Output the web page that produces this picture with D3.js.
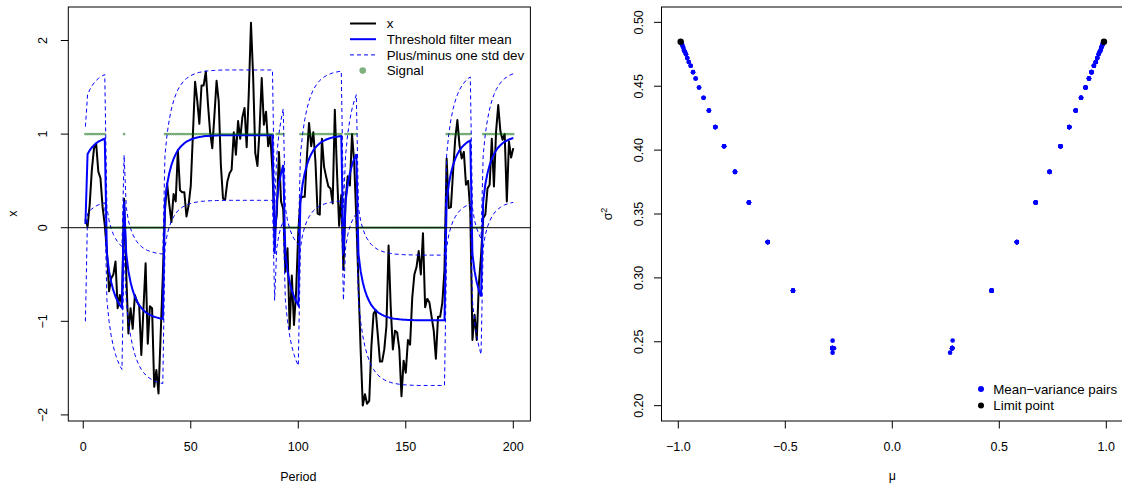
<!DOCTYPE html>
<html>
<head>
<meta charset="utf-8">
<script src="https://cdn.jsdelivr.net/npm/d3@7"></script>
<style>
  body { margin: 0; background: #fff; }
  svg text { font-family: "Liberation Sans", Arial, Helvetica, sans-serif; font-size: 12.5px; fill: #000; }
  svg text.legend { font-size: 13.3px; }
</style>
</head>
<body>
<svg id="chart" width="1122" height="487"></svg>
<script>
// observed series, periods 1..200
const xSeries = [
  0.09, 0.01, 0.25, 0.62, 0.85, 0.90, 0.60, 0.53, 0.22, 0.03,
  -0.25, -0.68, -0.54, -0.50, -0.36, -0.86, -0.72, -0.83, 0.31, -0.50,
  -1.13, -0.86, -1.08, -0.72, -0.79, -0.83, -1.36, -0.86, -0.38, -1.24,
  -0.84, -0.86, -1.70, -1.52, -1.77, -1.14, -0.51, 0.19, 0.47, 0.25,
  0.06, 0.36, 0.28, 0.83, 0.40, 0.38, 0.38, 0.12, 0.24, 0.45,
  1.00, 1.56, 1.36, 1.11, 1.52, 1.52, 1.67, 1.32, 1.02, 0.85,
  1.20, 1.57, 1.35, 0.67, 0.31, 0.30, 0.49, 0.58, 0.62, 1.02,
  0.78, 1.14, 0.95, 1.18, 1.28, 0.86, 1.45, 2.19, 1.62, 0.80,
  0.66, 1.05, 1.60, 1.10, 1.24, 0.87, 0.99, 0.60, -0.05, 0.14,
  0.81, 0.28, 0.20, -0.47, -0.22, -1.08, -0.51, -1.04, -0.68, -0.05,
  0.31, 0.33, 0.33, 0.75, 1.12, 0.87, 1.02, 0.70, 0.15, 0.14,
  0.95, 0.65, 0.54, 0.44, 0.42, 0.26, 1.26, 0.60, 0.02, 0.35,
  -0.45, 0.30, 0.55, 0.45, 1.00, 0.70, 0.10, -0.60, -1.30, -1.90,
  -1.78, -1.88, -1.85, -1.27, -0.92, -0.88, -1.15, -1.43, -1.43, -1.30,
  -1.05, -0.19, -0.85, -1.30, -1.10, -1.12, -1.30, -1.80, -1.42, -1.55,
  -1.20, -1.25, -0.75, -0.50, -0.42, -0.25, -0.50, -0.06, -0.85, -0.76,
  -0.80, -0.95, -1.10, -1.40, -0.95, -0.95, -0.80, -0.45, 0.74, 0.21,
  0.22, 0.60, 0.95, 1.15, 0.88, 0.74, 0.81, 0.46, 0.50, 0.17,
  -1.20, -0.93, -1.20, -0.60, -0.30, 0.10, 0.14, 0.42, 0.46, 0.95,
  0.44, 1.03, 1.31, 1.03, 0.94, 1.00, 0.28, 0.92, 0.75, 0.85
];

// signal regimes: [first period, last period, signal]
const signalRuns = [
  [1, 10, 1], [11, 18, 0], [19, 19, 1], [20, 37, 0], [38, 88, 1],
  [89, 89, 0], [90, 93, 1], [94, 100, 0], [101, 120, 1], [121, 121, 0],
  [122, 127, 1], [128, 168, 0], [169, 180, 1], [181, 185, 0], [186, 200, 1]
];

// filter state at period 1, and step where the first regime joins the table
const initMean = 0.04;
const initSd = 1.04;
const firstRunStep = 5;

// |mean| and variance of the filter k steps after a regime switch
const stepMean = [0.280, 0.464, 0.582, 0.670, 0.735, 0.786, 0.827, 0.857, 0.882, 0.903,
  0.919, 0.931, 0.942, 0.951, 0.958, 0.964, 0.969, 0.973, 0.976, 0.979,
  0.981, 0.983, 0.984, 0.985, 0.986, 0.987, 0.988, 0.988, 0.989, 0.989];
const stepVar = [0.245, 0.290, 0.328, 0.359, 0.383, 0.403, 0.418, 0.431, 0.441, 0.449,
  0.456, 0.461, 0.466, 0.469, 0.472, 0.475, 0.477, 0.478, 0.480, 0.481,
  0.482, 0.483, 0.483, 0.484, 0.484, 0.4845, 0.4846, 0.4847, 0.4848, 0.4848];

// first-step pairs that land slightly off the table
const extraPairs = [[0.270, 0.2415], [0.282, 0.251], [-0.279, 0.2509], [-0.272, 0.2449], [-0.279, 0.2415]];
const limitPoint = [0.989, 0.4848];

const periodTicks = [0, 50, 100, 150, 200];
const xTicks = [-2, -1, 0, 1, 2];
const muTicks = [-1, -0.5, 0, 0.5, 1];
const varTicks = [0.20, 0.25, 0.30, 0.35, 0.40, 0.45, 0.50];

const legendLeft = ['x', 'Threshold filter mean', 'Plus/minus one std dev', 'Signal'];
const legendRight = ['Mean\u2212variance pairs', 'Limit point'];

// build the per-period table
const rows = [];
signalRuns.forEach(([a, b, s]) => {
  for (let t = a; t <= b; t++) {
    let m, sd;
    if (t === 1) {
      m = initMean; sd = initSd;
    } else {
      let k = a === 1 ? t - 2 + firstRunStep : t - a;
      k = Math.min(k, stepMean.length - 1);
      m = (s ? 1 : -1) * stepMean[k];
      sd = Math.sqrt(stepVar[k]);
    }
    rows.push({t: t, x: xSeries[t - 1], s: s, m: m, v: sd * sd, up: m + sd, lo: m - sd});
  }
});

const svg = d3.select('#chart');
const green = 'rgba(0,100,0,0.5)';

// ---------- left panel ----------
const xL = d3.scaleLinear().domain([-6.96, 207.96]).range([68.3, 530.4]);
const yL = d3.scaleLinear().domain([-2.065, 2.358]).range([421, 7]);
const left = svg.append('g');

svg.append('clipPath').attr('id', 'clipL').append('rect')
  .attr('x', 68.3).attr('y', 7).attr('width', 462.1).attr('height', 414);

const plotL = left.append('g').attr('clip-path', 'url(#clipL)');
const lineOf = key => d3.line().x(d => xL(d.t)).y(d => yL(d[key]));

plotL.append('path').datum(rows).attr('d', lineOf('x'))
  .attr('fill', 'none').attr('stroke', '#000').attr('stroke-width', 2).attr('stroke-linejoin', 'round');
plotL.append('path').datum(rows).attr('d', lineOf('m'))
  .attr('fill', 'none').attr('stroke', '#0000ff').attr('stroke-width', 2);
['up', 'lo'].forEach(k => {
  plotL.append('path').datum(rows).attr('d', lineOf(k))
    .attr('fill', 'none').attr('stroke', '#0000ff').attr('stroke-width', 1).attr('stroke-dasharray', '4,3');
});
plotL.selectAll('circle.sig').data(rows).enter().append('circle')
  .attr('cx', d => xL(d.t)).attr('cy', d => yL(d.s)).attr('r', 1.4).attr('fill', green);
plotL.append('line').attr('x1', 68.3).attr('x2', 530.4).attr('y1', yL(0)).attr('y2', yL(0))
  .attr('stroke', '#000').attr('stroke-width', 1);

left.append('rect').attr('x', 68.3).attr('y', 7).attr('width', 462.1).attr('height', 414)
  .attr('fill', 'none').attr('stroke', '#000').attr('stroke-width', 1);

// axes
left.selectAll('line.xt').data(periodTicks).enter().append('line')
  .attr('x1', d => xL(d)).attr('x2', d => xL(d)).attr('y1', 421).attr('y2', 428.5)
  .attr('stroke', '#000');
left.selectAll('text.xt').data(periodTicks).enter().append('text')
  .attr('x', d => xL(d)).attr('y', 450.5).attr('text-anchor', 'middle').text(d => d);
left.selectAll('line.yt').data(xTicks).enter().append('line')
  .attr('x1', 60.8).attr('x2', 68.3).attr('y1', d => yL(d)).attr('y2', d => yL(d))
  .attr('stroke', '#000');
left.selectAll('text.yt').data(xTicks).enter().append('text')
  .attr('transform', d => `translate(46.5,${yL(d)}) rotate(-90)`)
  .attr('text-anchor', 'middle').text(d => d < 0 ? '\u2212' + Math.abs(d) : d);
left.append('text').attr('x', xL(100)).attr('y', 481).attr('text-anchor', 'middle').text('Period');
left.append('text').attr('transform', `translate(17,${yL(0.15)}) rotate(-90)`)
  .attr('text-anchor', 'middle').text('x');

// legend
const lg = left.append('g');
legendLeft.forEach((label, i) => {
  const y = 23.5 + i * 15.7;
  if (i < 3) {
    lg.append('line').attr('x1', 350).attr('x2', 376).attr('y1', y).attr('y2', y)
      .attr('stroke', i === 0 ? '#000' : '#0000ff')
      .attr('stroke-width', i === 2 ? 1 : 2)
      .attr('stroke-dasharray', i === 2 ? '4,3' : null);
  } else {
    lg.append('circle').attr('cx', 362.7).attr('cy', y).attr('r', 3.3).attr('fill', green);
  }
  lg.append('text').attr('class', 'legend').attr('x', 386.7).attr('y', y + 4.7).text(label);
});

// ---------- right panel ----------
const xR = d3.scaleLinear().domain([-1.0785, 1.0785]).range([661.5, 1123.1]);
const yR = d3.scaleLinear().domain([0.188, 0.512]).range([421, 7]);
const right = svg.append('g');

const pairs = rows.filter(d => d.t > 1).map(d => [d.m, d.v]).concat(extraPairs);
right.selectAll('circle.pair').data(pairs).enter().append('circle')
  .attr('cx', d => xR(d[0])).attr('cy', d => yR(d[1])).attr('r', 2.3).attr('fill', '#0000ff');
[-1, 1].forEach(sg => {
  right.append('circle').attr('cx', xR(sg * limitPoint[0])).attr('cy', yR(limitPoint[1]))
    .attr('r', 3.2).attr('fill', '#000');
});

right.append('rect').attr('x', 661.5).attr('y', 7).attr('width', 461.6).attr('height', 414)
  .attr('fill', 'none').attr('stroke', '#000').attr('stroke-width', 1);

right.selectAll('line.xt').data(muTicks).enter().append('line')
  .attr('x1', d => xR(d)).attr('x2', d => xR(d)).attr('y1', 421).attr('y2', 428.5)
  .attr('stroke', '#000');
right.selectAll('text.xt').data(muTicks).enter().append('text')
  .attr('x', d => xR(d)).attr('y', 450.5).attr('text-anchor', 'middle')
  .text(d => (d < 0 ? '\u2212' : '') + d3.format('.1f')(Math.abs(d)));
right.selectAll('line.yt').data(varTicks).enter().append('line')
  .attr('x1', 654).attr('x2', 661.5).attr('y1', d => yR(d)).attr('y2', d => yR(d))
  .attr('stroke', '#000');
right.selectAll('text.yt').data(varTicks).enter().append('text')
  .attr('transform', d => `translate(642.7,${yR(d)}) rotate(-90)`)
  .attr('text-anchor', 'middle').text(d => d3.format('.2f')(d));
right.append('text').attr('x', xR(0)).attr('y', 480).attr('text-anchor', 'middle').text('\u03bc');
const sigLab = right.append('text').attr('transform', `translate(611.5,${yR(0.35)}) rotate(-90)`)
  .attr('text-anchor', 'middle');
sigLab.append('tspan').text('\u03c3');
sigLab.append('tspan').attr('dy', -5).attr('font-size', '9px').text('2');

const lr = right.append('g');
legendRight.forEach((label, i) => {
  const y = 389 + i * 16.5;
  lr.append('circle').attr('cx', 981).attr('cy', y).attr('r', 3).attr('fill', i === 0 ? '#0000ff' : '#000');
  lr.append('text').attr('class', 'legend').attr('x', 993.3).attr('y', y + 4.7).text(label);
});
</script>
</body>
</html>
